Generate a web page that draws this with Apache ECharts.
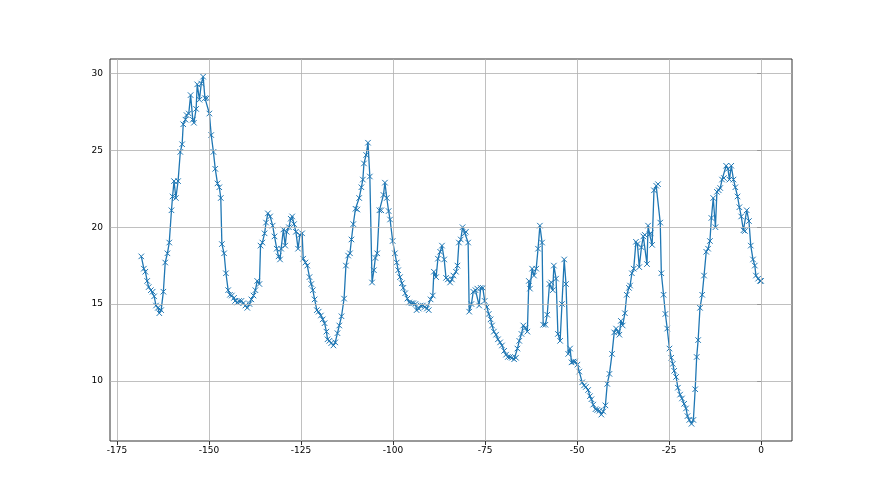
<!DOCTYPE html>
<html>
<head>
<meta charset="utf-8">
<title>line chart</title>
<script src="https://cdn.jsdelivr.net/npm/echarts@6/dist/echarts.min.js"></script>
<style>
	html, body { margin: 0; padding: 0; background: #fff; }
	#chart { width: 880px; height: 495px; }
</style>
</head>
<body>
<div id="chart"></div>
<script>
// x positions of the samples
var xs = [
	-168.4, -167.7, -167.3, -166.8, -166.4, -165.8, -165.3, -164.9, -164.4, -163.9,
	-163.5, -163.0, -162.4, -161.9, -161.3, -160.8, -160.2, -159.9, -159.5, -159.0,
	-158.4, -157.8, -157.3, -157.0, -156.4, -156.1, -155.5, -155.0, -154.4, -154.1,
	-153.5, -153.2, -152.6, -152.1, -151.6, -151.1, -150.6, -149.9, -149.4, -148.8,
	-148.3, -147.7, -147.2, -146.8, -146.5, -145.9, -145.4, -144.8, -144.3, -143.8,
	-143.2, -142.9, -142.3, -141.8, -141.2, -140.7, -140.1, -139.6, -139.0, -138.5,
	-137.9, -137.4, -136.9, -136.3, -136.0, -135.5, -134.9, -134.5, -134.0, -133.4,
	-132.7, -132.2, -131.6, -131.1, -130.7, -130.4, -129.8, -129.3, -128.9, -128.3,
	-127.8, -127.4, -126.9, -126.4, -125.8, -125.3, -124.7, -124.4, -123.8, -123.3,
	-122.7, -122.2, -121.8, -121.3, -120.7, -120.2, -119.6, -119.1, -118.6, -118.1,
	-117.8, -117.3, -116.8, -116.2, -115.7, -115.1, -114.6, -114.0, -113.3, -112.8,
	-112.2, -111.7, -111.3, -110.8, -110.2, -109.7, -109.2, -108.6, -108.2, -107.9,
	-107.3, -106.8, -106.3, -105.7, -105.2, -104.8, -104.3, -103.7, -103.2, -102.6,
	-102.2, -101.7, -101.2, -100.8, -100.1, -99.5, -99.0, -98.6, -98.1, -97.6,
	-97.2, -96.7, -96.1, -95.6, -95.0, -94.5, -93.9, -93.6, -93.0, -92.5,
	-91.9, -91.4, -90.8, -90.3, -89.8, -89.2, -88.9, -88.3, -87.8, -87.2,
	-86.7, -86.1, -85.6, -85.1, -84.5, -84.0, -83.6, -82.9, -82.5, -82.1,
	-81.6, -81.1, -80.5, -80.2, -79.6, -79.3, -78.7, -78.2, -77.6, -77.1,
	-76.6, -76.2, -75.6, -75.1, -74.5, -74.0, -73.5, -73.1, -72.6, -72.0,
	-71.5, -70.9, -70.4, -69.8, -69.3, -68.8, -68.2, -67.7, -67.1, -66.6,
	-66.2, -65.7, -65.1, -64.6, -64.0, -63.5, -63.1, -62.8, -62.2, -61.7,
	-61.1, -60.6, -60.1, -59.5, -59.2, -58.6, -58.1, -57.5, -57.0, -56.6,
	-56.3, -55.7, -55.2, -54.6, -54.1, -53.5, -53.0, -52.4, -51.9, -51.5,
	-51.0, -50.5, -49.9, -49.4, -48.6, -48.1, -47.6, -47.0, -46.5, -46.1,
	-45.6, -45.0, -44.5, -43.9, -43.4, -42.9, -42.3, -41.8, -41.2, -40.5,
	-39.9, -39.4, -38.9, -38.5, -38.1, -37.6, -37.0, -36.5, -35.9, -35.6,
	-35.1, -34.6, -34.0, -33.6, -33.1, -32.5, -32.0, -31.6, -31.0, -30.7,
	-30.3, -30.0, -29.6, -29.1, -28.5, -28.0, -27.4, -27.1, -26.5, -26.0,
	-25.5, -24.9, -24.4, -24.0, -23.6, -23.1, -22.6, -22.0, -21.5, -20.9,
	-20.4, -20.0, -19.5, -18.9, -18.4, -17.9, -17.5, -17.1, -16.6, -16.0,
	-15.5, -14.9, -14.4, -13.9, -13.5, -13.0, -12.4, -12.0, -11.5, -11.1,
	-10.6, -10.1, -9.5, -9.0, -8.6, -8.1, -7.5, -7.0, -6.4, -5.9,
	-5.4, -4.8, -4.4, -3.9, -3.3, -2.8, -2.2, -1.7, -1.4, -0.8,
	-0.3, 0.0
];
// values
var ys = [
	18.1, 17.3, 17.1, 16.5, 16.1, 15.9, 15.8, 15.5, 14.9, 14.75,
	14.4, 14.6, 15.8, 17.7, 18.3, 19.0, 21.1, 22.0, 23.0, 21.9,
	23.0, 24.9, 25.4, 26.7, 27.0, 27.3, 27.4, 28.6, 27.0, 26.8,
	27.7, 29.3, 28.3, 29.35, 29.8, 28.4, 28.4, 27.4, 26.0, 24.9,
	23.8, 22.85, 22.6, 21.9, 18.9, 18.3, 17.0, 15.9, 15.6, 15.55,
	15.4, 15.2, 15.1, 15.2, 15.2, 15.05, 14.9, 14.75, 15.0, 15.3,
	15.55, 15.9, 16.5, 16.3, 18.8, 19.0, 19.6, 20.3, 20.9, 20.7,
	20.1, 19.4, 18.6, 18.1, 17.9, 18.6, 19.85, 18.8, 19.7, 20.0,
	20.55, 20.7, 20.2, 19.7, 18.6, 19.5, 19.6, 17.95, 17.7, 17.5,
	16.75, 16.3, 15.9, 15.3, 14.6, 14.5, 14.25, 14.0, 13.75, 13.2,
	12.7, 12.6, 12.45, 12.3, 12.5, 13.1, 13.6, 14.2, 15.35, 17.5,
	18.15, 18.3, 19.2, 20.2, 21.2, 21.15, 21.9, 22.6, 23.1, 24.15,
	24.7, 25.5, 23.3, 16.4, 17.2, 18.0, 18.3, 21.1, 21.1, 22.1,
	22.9, 21.9, 21.05, 20.5, 19.1, 18.3, 17.7, 17.2, 16.75, 16.35,
	16.05, 15.7, 15.35, 15.1, 15.05, 15.05, 15.0, 14.6, 14.7, 14.9,
	14.9, 14.8, 14.7, 14.6, 15.3, 15.55, 17.1, 16.75, 17.95, 18.4,
	18.8, 17.9, 16.7, 16.6, 16.4, 16.6, 16.85, 17.1, 17.5, 19.0,
	19.2, 20.0, 19.6, 19.7, 19.0, 14.5, 15.0, 15.8, 15.9, 16.0,
	14.9, 16.05, 16.05, 15.2, 14.8, 14.35, 14.0, 13.6, 13.2, 13.0,
	12.7, 12.5, 12.3, 11.95, 11.7, 11.55, 11.55, 11.5, 11.4, 11.5,
	12.1, 12.6, 13.05, 13.6, 13.45, 13.2, 16.5, 16.0, 17.3, 16.85,
	17.3, 18.6, 20.1, 19.0, 13.65, 13.65, 14.3, 16.3, 16.4, 15.9,
	17.5, 16.65, 13.05, 12.6, 15.0, 17.9, 16.3, 11.75, 12.1, 11.2,
	11.25, 11.25, 11.05, 10.6, 9.9, 9.7, 9.6, 9.4, 9.0, 8.8,
	8.45, 8.15, 8.1, 8.05, 7.8, 8.0, 8.4, 9.8, 10.45, 11.75,
	13.15, 13.4, 13.2, 13.0, 13.9, 13.6, 14.4, 15.6, 16.05, 16.2,
	17.0, 17.3, 19.05, 18.9, 17.4, 18.7, 19.4, 19.5, 17.6, 20.1,
	19.55, 19.6, 18.85, 22.4, 22.7, 22.8, 20.3, 17.0, 15.6, 14.35,
	13.4, 12.1, 11.5, 11.1, 10.65, 10.25, 9.55, 9.1, 8.85, 8.5,
	8.2, 7.7, 7.45, 7.2, 7.45, 9.45, 11.55, 12.65, 14.75, 15.6,
	16.85, 18.4, 18.6, 19.1, 20.6, 21.9, 20.0, 22.3, 22.4, 22.55,
	23.1, 23.2, 24.0, 23.8, 23.1, 24.0, 23.1, 22.6, 22.0, 21.3,
	20.7, 19.8, 19.75, 21.1, 20.4, 18.8, 17.9, 17.5, 16.85, 16.65,
	16.5, 16.5
];
// tick labels
var xTicks = [-175, -150, -125, -100, -75, -50, -25, 0];
var yTicks = [10, 15, 20, 25, 30];

var chart = echarts.init(document.getElementById('chart'), null, { renderer: 'canvas' });

var labelFont = {
	color: '#000',
	fontSize: 9,
	fontFamily: 'DejaVu Sans'
};

chart.setOption({
	animation: false,
	backgroundColor: '#fff',
	grid: {
		left: 110,
		right: 88,
		top: 59,
		bottom: 54,
		show: true,
		borderColor: '#333',
		borderWidth: 1,
		backgroundColor: 'transparent'
	},
	xAxis: {
		type: 'value',
		min: -176.9,
		max: 8.4,
		axisLine: { show: false },
		axisTick: { show: true, length: 4, customValues: xTicks, lineStyle: { color: '#333' } },
		axisLabel: Object.assign({ customValues: xTicks, margin: 5 }, labelFont),
		splitLine: { show: false }
	},
	yAxis: {
		type: 'value',
		min: 6.08,
		max: 30.95,
		axisLine: { show: false },
		axisTick: { show: true, length: 4, customValues: yTicks, lineStyle: { color: '#333' } },
		axisLabel: Object.assign({ customValues: yTicks, margin: 7 }, labelFont),
		splitLine: { show: false }
	},
	series: [
		{
			// grid lines, drawn under the data line
			type: 'line',
			data: [],
			z: 1,
			silent: true,
			markLine: {
				silent: true,
				symbol: 'none',
				label: { show: false },
				lineStyle: { color: '#b0b0b0', width: 0.8, type: 'solid' },
				data: xTicks.map(function (v) { return { xAxis: v }; })
					.concat(yTicks.map(function (v) { return { yAxis: v }; }))
			}
		},
		{
			type: 'line',
			z: 3,
			data: xs.map(function (x, i) { return [x, ys[i]]; }),
			showAllSymbol: true,
			symbol: 'path://M0,0L10,10M10,0L0,10',
			symbolSize: 5.5,
			itemStyle: { color: '#1f77b4', borderColor: '#1f77b4', borderWidth: 1 },
			lineStyle: { color: '#1f77b4', width: 1.3 }
		}
	]
});
</script>
</body>
</html>
